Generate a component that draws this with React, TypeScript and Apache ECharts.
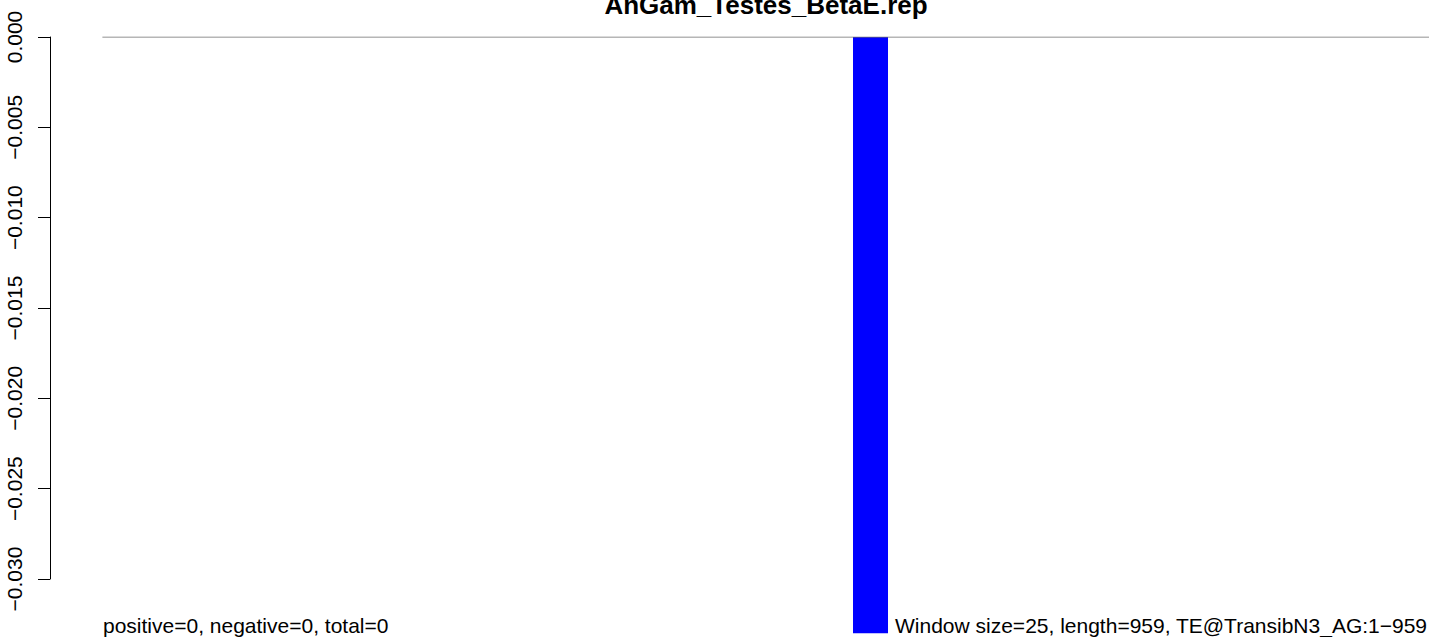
import React, { useEffect, useRef } from "react";
import * as echarts from "echarts";

const chartTitle = "AnGam_Testes_BetaE.rep";
const leftNote = "positive=0, negative=0, total=0";
const rightNote = "Window size=25, length=959, TE@TransibN3_AG:1\u2212959";
const yTicks = [0, -0.005, -0.01, -0.015, -0.02, -0.025, -0.03];
const baselineX = [38, 1000];
const barPositions = [595];
const barValues = [-0.033];

const FONT = "'Liberation Sans', Arial, Helvetica, sans-serif";

export default function App() {
  const ref = useRef<HTMLDivElement>(null);
  useEffect(() => {
    if (!ref.current) return;
    const chart = echarts.init(ref.current, null, { renderer: "svg" });
    chart.setOption({
      animation: false,
      backgroundColor: "#ffffff",
      grid: { left: 50, right: 0, top: 37, bottom: 58, containLabel: false },
      xAxis: {
        type: "value",
        min: 0,
        max: 1000,
        show: false,
      },
      yAxis: {
        type: "value",
        min: yTicks[yTicks.length - 1],
        max: yTicks[0],
        interval: 0.005,
        axisLine: { show: true, lineStyle: { color: "#000", width: 1 } },
        axisTick: { show: true, length: 12, lineStyle: { color: "#000", width: 1 } },
        splitLine: { show: false },
        axisLabel: {
          rotate: 90,
          margin: 25,
          color: "#000",
          fontSize: 21,
          fontFamily: FONT,
          formatter: (v: number) => {
            const s = Math.abs(v).toFixed(3);
            return v < 0 ? "\u2212" + s : s;
          },
        },
      },
      series: [
        {
          type: "line",
          data: baselineX.map((x) => [x, 0]),
          symbol: "none",
          lineStyle: { color: "#6e6e6e", width: 1 },
          silent: true,
        },
        {
          type: "bar",
          data: barPositions.map((x, i) => [x, barValues[i]]),
          barWidth: 35,
          clip: false,
          itemStyle: { color: "#0000ff" },
          silent: true,
        },
      ],
      graphic: [
        {
          type: "text",
          x: 766,
          y: 5,
          style: {
            text: chartTitle,
            font: `bold 26px ${FONT}`,
            fill: "#000",
            textAlign: "center",
            textVerticalAlign: "middle",
          },
          z: 10,
        },
        {
          type: "text",
          x: 103,
          y: 625,
          style: {
            text: leftNote,
            font: `21px ${FONT}`,
            fill: "#000",
            textVerticalAlign: "middle",
          },
          z: 10,
        },
        {
          type: "text",
          x: 895,
          y: 625,
          style: {
            text: rightNote,
            font: `21px ${FONT}`,
            fill: "#000",
            textVerticalAlign: "middle",
          },
          z: 10,
        },
      ],
    });
    return () => chart.dispose();
  }, []);
  return (
    <div
      ref={ref}
      style={{ position: "absolute", left: 0, top: 0, width: 1429, height: 637 }}
    />
  );
}
